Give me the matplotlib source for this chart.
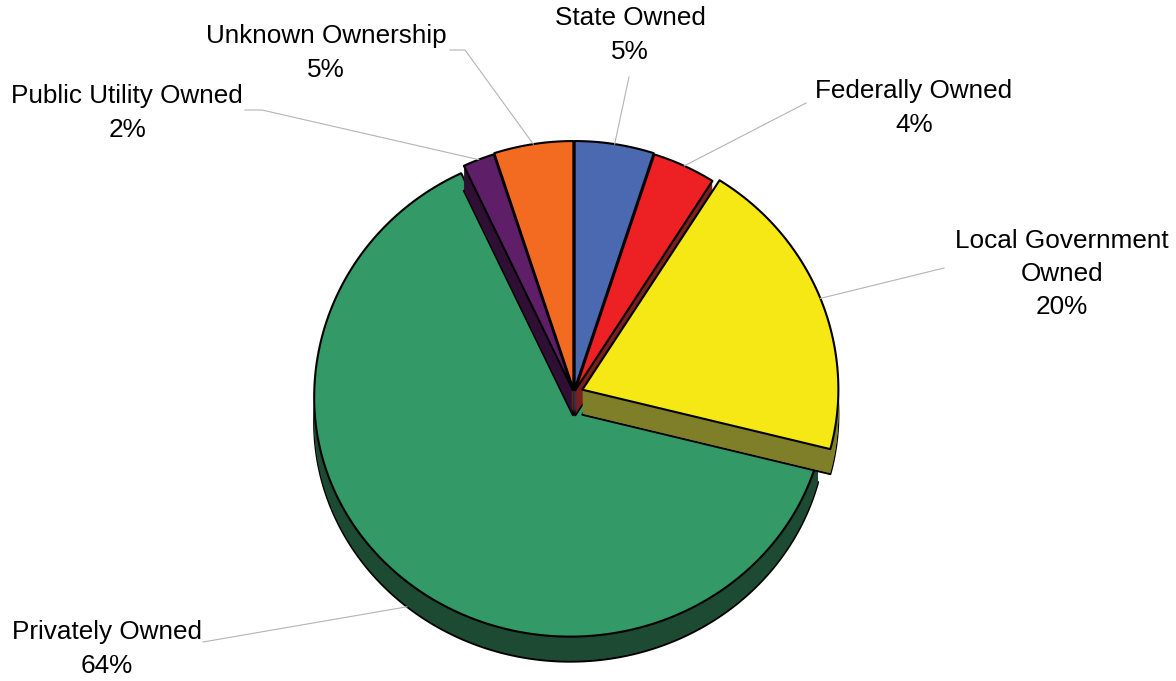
import numpy as np
import matplotlib.pyplot as plt
from matplotlib.patches import Polygon

# data
labels = ['State Owned', 'Federally Owned', 'Local Government\nOwned',
          'Privately Owned', 'Public Utility Owned', 'Unknown Ownership']
shares = [5, 4, 20, 64, 2, 5]
top_colors = ['#4a69b0', '#ed2024', '#f5e814', '#339966', '#5f1f68', '#f26b21']
side_colors = ['#253558', '#7b1f1f', '#7f7f2a', '#1c4a32', '#2f1034', '#7a3510']
explode = [4, 3, 9, 6, 3, 4]  # pixels

# geometry (pixel space, y down)
cx, cy = 574, 393
rx, ry_top, ry_bot = 256, 248, 239
depth = 25

# label layout: text position and where the leader starts
label_pos = [(630, 35), (914, 108), (1062, 274), (107, 649), (127, 113), (326, 53)]
leader_start = [[(629, 77)], [(806, 103)], [(944, 268)], [(203, 642)],
                [(245, 110), (262, 110)], [(450, 50), (465, 50)]]


def ell(t):
    t = np.radians(t)
    s = np.sin(t)
    ry = np.where(s > 0, ry_top, ry_bot)
    return cx + rx * np.cos(t), cy - ry * s


# angles, clockwise from 90
bounds = 90 - 3.6 * np.concatenate([[0], np.cumsum(shares)])
wedges = []
for i in range(len(shares)):
    t1, t2 = bounds[i], bounds[i + 1]
    mid = (t1 + t2) / 2
    dx = explode[i] * np.cos(np.radians(mid))
    dy = -explode[i] * np.sin(np.radians(mid))
    ts = np.linspace(t1, t2, max(int(abs(t1 - t2)) * 2, 10))
    xs, ys = ell(ts)
    pts = np.column_stack([np.r_[cx, xs], np.r_[cy, ys]]) + [dx, dy]
    ax_, ay_ = ell(mid)
    wedges.append((pts, (float(ax_) + dx, float(ay_) + dy)))

fig = plt.figure(figsize=(11.76, 6.81), dpi=100)
ax = fig.add_axes([0, 0, 1, 1])
ax.set_xlim(0, 1176)
ax.set_ylim(681, 0)
ax.axis('off')

order = [3, 5, 0, 4, 1, 2]
for i in order:
    pts = wedges[i][0]
    ax.add_patch(Polygon(pts + [0, depth], closed=True, facecolor=side_colors[i],
                         edgecolor='black', lw=1.5, joinstyle='round'))
    for k in range(depth - 1, 0, -1):
        ax.add_patch(Polygon(pts + [0, k], closed=True, facecolor=side_colors[i],
                             edgecolor='none'))
    ax.add_patch(Polygon(pts, closed=True, facecolor=top_colors[i],
                         edgecolor='black', lw=1.5, joinstyle='round'))

# labels and leader lines
for i in range(len(shares)):
    anchor = wedges[i][1]
    if i == 3:
        anchor = (anchor[0], anchor[1] + depth)
    path = leader_start[i] + [anchor]
    ax.plot([p[0] for p in path], [p[1] for p in path], color='#b4b4b4', lw=0.8)
    ax.text(label_pos[i][0], label_pos[i][1], f'{labels[i]}\n{shares[i]}%',
            ha='center', va='center', multialignment='center', linespacing=1.5,
            fontsize=18.8, family='Liberation Sans')

fig.savefig('out.png', dpi=100)
